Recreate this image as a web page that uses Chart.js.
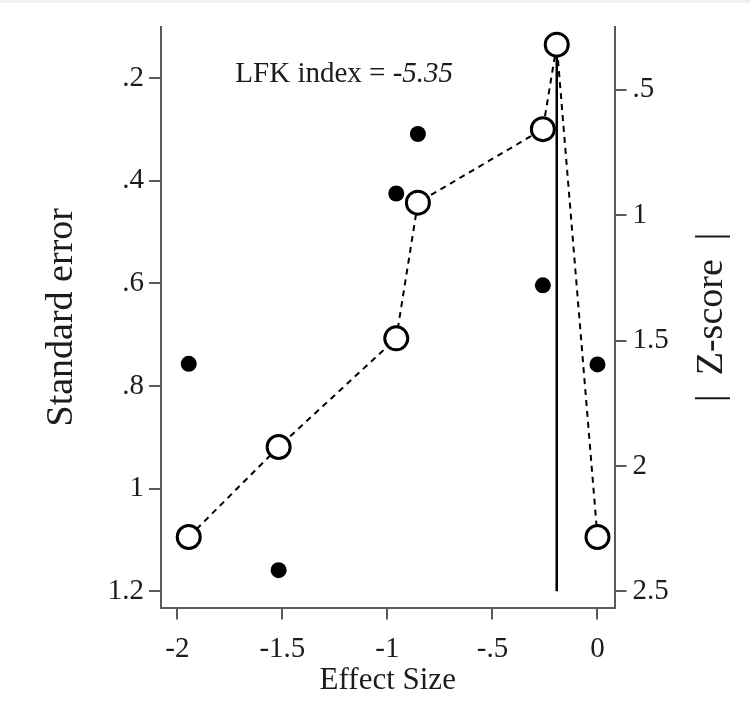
<!DOCTYPE html>
<html>
<head>
<meta charset="utf-8">
<script src="https://cdn.jsdelivr.net/npm/chart.js@4.4.1/dist/chart.umd.min.js"></script>
<style>
  html, body { margin: 0; padding: 0; background: #fff; }
  #strip { position: absolute; left: 0; top: 0; width: 750px; height: 3px; background: #edf1f4; }
</style>
</head>
<body>
<div id="strip"></div>
<canvas id="doiPlot" width="750" height="724"></canvas>
<script>
// effect sizes of the studies (same x for dots and circles)
var studyEffect = [-1.946, -1.518, -0.958, -0.855, -0.26, 0.0];
var studySE = [0.757, 1.159, 0.425, 0.309, 0.604, 0.758];

// Doi plot points: effect size vs |Z-score|
var doiEffect = [-1.946, -1.518, -0.958, -0.855, -0.26, -0.194, 0.0];
var doiZ = [2.283, 1.924, 1.491, 0.95, 0.657, 0.32, 2.283];

// pooled effect line
var pooledEffect = -0.194;
var pooledSE = [0.135, 1.2];

var xTicks = [-2, -1.5, -1, -0.5, 0];
var xTickLabels = ['-2', '-1.5', '-1', '-.5', '0'];
var seTicks = [0.2, 0.4, 0.6, 0.8, 1, 1.2];
var seTickLabels = ['.2', '.4', '.6', '.8', '1', '1.2'];
var zTicks = [0.5, 1, 1.5, 2, 2.5];
var zTickLabels = ['.5', '1', '1.5', '2', '2.5'];

var lfkLabel = 'LFK index = ';
var lfkValue = '-5.35';
var zTitle = '|  Z-score  |';

var serif = '"Liberation Serif", "DejaVu Serif", serif';
var ink = '#1c1c1c';
var axisGray = '#5a5a5a';
var tickSize = 29;

function pairs(xs, ys) {
	var out = [];
	for (var i = 0; i < xs.length; i++) out.push({x: xs[i], y: ys[i]});
	return out;
}

function fixedTicks(values) {
	return function(scale) {
		scale.ticks = values.map(function(v) { return {value: v}; });
	};
}

function labelsFrom(values, labels) {
	return function(value) {
		var i = values.indexOf(value);
		return i >= 0 ? labels[i] : '';
	};
}

const notes = {
	id: 'notes',
	afterDraw: function(chart) {
		var ctx = chart.ctx;
		var xs = chart.scales.x, ys = chart.scales.y;
		ctx.save();
		ctx.fillStyle = ink;
		ctx.textBaseline = 'alphabetic';
		ctx.font = '29px ' + serif;
		var tx = xs.getPixelForValue(-1.724);
		var ty = ys.getPixelForValue(0.207);
		ctx.fillText(lfkLabel, tx, ty);
		var w = ctx.measureText(lfkLabel).width;
		ctx.font = 'italic 29px ' + serif;
		ctx.fillText(lfkValue, tx + w, ty);

		// right axis title reads bottom to top
		ctx.translate(712, (chart.chartArea.top + chart.chartArea.bottom) / 2);
		ctx.rotate(-Math.PI / 2);
		ctx.textAlign = 'center';
		ctx.textBaseline = 'middle';
		ctx.font = '38px ' + serif;
		ctx.fillText(zTitle, 0, 0);
		ctx.restore();
	}
};

const ctx = document.getElementById('doiPlot').getContext('2d');
const myChart = new Chart(ctx, {
	data: {
		datasets: [{
			type: 'line',
			data: pairs(doiEffect, doiZ),
			yAxisID: 'y2',
			borderColor: '#000',
			borderWidth: 2,
			borderDash: [6, 5],
			pointRadius: 11.5,
			pointBorderWidth: 3,
			pointBackgroundColor: '#fff',
			pointBorderColor: '#000',
			fill: false,
			clip: false,
			order: 1
		}, {
			type: 'scatter',
			data: pairs(studyEffect, studySE),
			yAxisID: 'y',
			pointRadius: 8,
			pointBackgroundColor: '#000',
			pointBorderColor: '#000',
			pointBorderWidth: 0,
			clip: false,
			order: 2
		}, {
			type: 'line',
			data: pairs([pooledEffect, pooledEffect], pooledSE),
			yAxisID: 'y',
			borderColor: '#000',
			borderWidth: 2.5,
			pointRadius: 0,
			fill: false,
			order: 3
		}]
	},
	options: {
		responsive: false,
		animation: false,
		layout: { padding: { top: 27, left: 0, right: 0, bottom: 0 } },
		plugins: {
			legend: { display: false },
			tooltip: { enabled: false }
		},
		scales: {
			x: {
				type: 'linear',
				position: 'bottom',
				min: -2.078,
				max: 0.081,
				afterBuildTicks: fixedTicks(xTicks),
				afterFit: function(scale) { scale.height = 116.5; },
				grid: { display: true, drawOnChartArea: false, drawTicks: true, tickLength: 12, tickColor: axisGray, lineWidth: 2 },
				border: { display: true, color: axisGray, width: 2 },
				ticks: {
					callback: labelsFrom(xTicks, xTickLabels),
					color: ink,
					padding: 12,
					maxRotation: 0,
					font: { family: serif, size: tickSize }
				},
				title: {
					display: true,
					text: 'Effect Size',
					color: ink,
					font: { family: serif, size: 31 },
					padding: { top: 0, bottom: 25 }
				}
			},
			y: {
				type: 'linear',
				position: 'left',
				reverse: true,
				min: 0.1005,
				max: 1.2318,
				afterBuildTicks: fixedTicks(seTicks),
				afterFit: function(scale) { scale.width = 161; },
				grid: { display: true, drawOnChartArea: false, drawTicks: true, tickLength: 12, tickColor: axisGray, lineWidth: 2 },
				border: { display: true, color: axisGray, width: 2 },
				ticks: {
					callback: labelsFrom(seTicks, seTickLabels),
					color: ink,
					padding: 5,
					font: { family: serif, size: tickSize }
				},
				title: {
					display: true,
					text: 'Standard error',
					color: ink,
					font: { family: serif, size: 38 },
					padding: { top: 39, bottom: 0 }
				}
			},
			y2: {
				type: 'linear',
				position: 'right',
				reverse: true,
				min: 0.2497,
				max: 2.564,
				afterBuildTicks: fixedTicks(zTicks),
				afterFit: function(scale) { scale.width = 135.5; },
				grid: { display: true, drawOnChartArea: false, drawTicks: true, tickLength: 12, tickColor: axisGray, lineWidth: 2 },
				border: { display: true, color: axisGray, width: 2 },
				ticks: {
					callback: labelsFrom(zTicks, zTickLabels),
					color: ink,
					padding: 6,
					font: { family: serif, size: tickSize }
				}
			}
		}
	},
	plugins: [notes]
});
</script>
</body>
</html>
